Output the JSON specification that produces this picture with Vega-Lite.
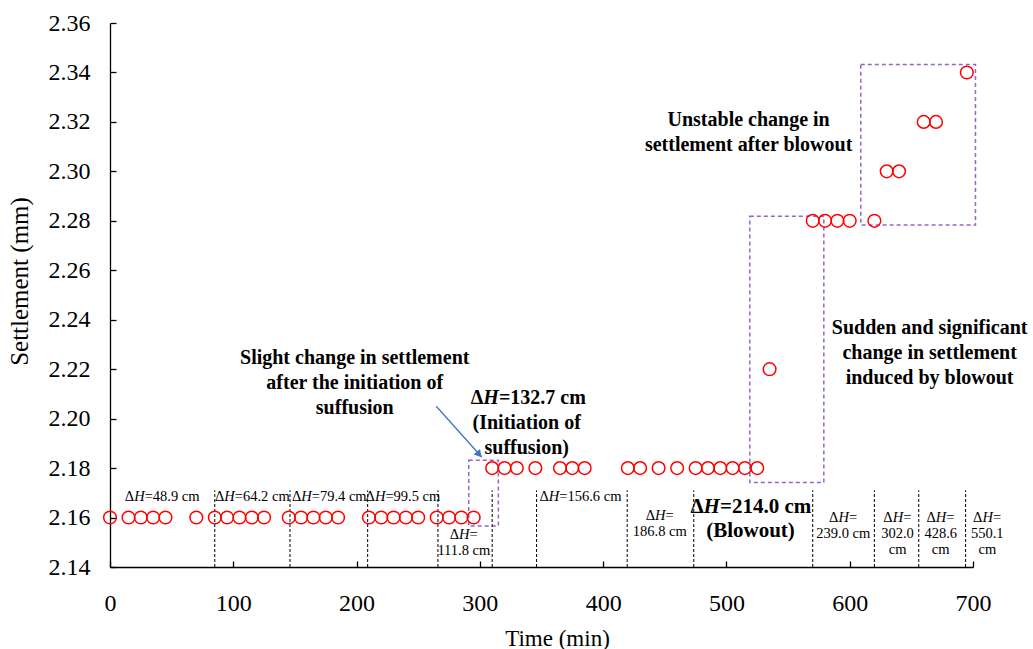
{
  "$schema": "https://vega.github.io/schema/vega-lite/v6.json",
  "width": 863,
  "height": 544,
  "autosize": {"type": "none"},
  "padding": {"left": 110, "top": 23, "right": 60, "bottom": 82},
  "config": {"view": {"stroke": null}, "font": "Liberation Serif"},
  "datasets": {
    "pts": [
      {"x": 0, "y": 2.16}, {"x": 15, "y": 2.16}, {"x": 25, "y": 2.16}, {"x": 35, "y": 2.16}, {"x": 45, "y": 2.16},
      {"x": 70, "y": 2.16}, {"x": 85, "y": 2.16}, {"x": 95, "y": 2.16}, {"x": 105, "y": 2.16}, {"x": 115, "y": 2.16},
      {"x": 125, "y": 2.16}, {"x": 145, "y": 2.16}, {"x": 155, "y": 2.16}, {"x": 165, "y": 2.16}, {"x": 175, "y": 2.16},
      {"x": 185, "y": 2.16}, {"x": 210, "y": 2.16}, {"x": 220, "y": 2.16}, {"x": 230, "y": 2.16}, {"x": 240, "y": 2.16},
      {"x": 250, "y": 2.16}, {"x": 265, "y": 2.16}, {"x": 275, "y": 2.16}, {"x": 285, "y": 2.16}, {"x": 295, "y": 2.16},
      {"x": 310, "y": 2.18}, {"x": 320, "y": 2.18}, {"x": 330, "y": 2.18}, {"x": 345, "y": 2.18}, {"x": 365, "y": 2.18},
      {"x": 375, "y": 2.18}, {"x": 385, "y": 2.18}, {"x": 420, "y": 2.18}, {"x": 430, "y": 2.18}, {"x": 445, "y": 2.18},
      {"x": 460, "y": 2.18}, {"x": 475, "y": 2.18}, {"x": 485, "y": 2.18}, {"x": 495, "y": 2.18}, {"x": 505, "y": 2.18},
      {"x": 515, "y": 2.18}, {"x": 525, "y": 2.18},
      {"x": 535, "y": 2.22},
      {"x": 570, "y": 2.28}, {"x": 580, "y": 2.28}, {"x": 590, "y": 2.28}, {"x": 600, "y": 2.28}, {"x": 620, "y": 2.28},
      {"x": 630, "y": 2.30}, {"x": 640, "y": 2.30},
      {"x": 660, "y": 2.32}, {"x": 670, "y": 2.32},
      {"x": 695, "y": 2.34}
    ],
    "rules": [
      {"x": 85, "y": 2.14, "y2": 2.171}, {"x": 146, "y": 2.14, "y2": 2.171}, {"x": 209, "y": 2.14, "y2": 2.171},
      {"x": 266, "y": 2.14, "y2": 2.171}, {"x": 310, "y": 2.14, "y2": 2.171}, {"x": 346, "y": 2.14, "y2": 2.171},
      {"x": 419.5, "y": 2.14, "y2": 2.171}, {"x": 473.5, "y": 2.14, "y2": 2.171}, {"x": 570, "y": 2.14, "y2": 2.171},
      {"x": 620, "y": 2.14, "y2": 2.171}, {"x": 656, "y": 2.14, "y2": 2.171}, {"x": 694, "y": 2.14, "y2": 2.171}
    ],
    "boxes": [
      {"x": 291, "x2": 315, "y": 2.1566, "y2": 2.1832},
      {"x": 519, "x2": 579, "y": 2.1742, "y2": 2.2818},
      {"x": 609, "x2": 702, "y": 2.2783, "y2": 2.3432}
    ],
    "arrow": [{"x": 264.6, "y": 2.205, "x2": 301.5, "y2": 2.1845}],
    "arrowhead": [{"x": 299.5, "y": 2.1855}],
    "dh_small": [
      {"x": 19.6, "y": 2.1684, "s": "=48.9 cm"},
      {"x": 92.7, "y": 2.1684, "s": "=64.2 cm"},
      {"x": 155.1, "y": 2.1684, "s": "=79.4 cm"},
      {"x": 214.9, "y": 2.1684, "s": "=99.5 cm"},
      {"x": 283.05, "y": 2.1529, "s": "="},
      {"x": 355.9, "y": 2.1684, "s": "=156.6 cm"},
      {"x": 442.05, "y": 2.1607, "s": "="},
      {"x": 590.85, "y": 2.1598, "s": "="},
      {"x": 634.85, "y": 2.1598, "s": "="},
      {"x": 669.85, "y": 2.1598, "s": "="},
      {"x": 707.65, "y": 2.1598, "s": "="}
    ],
    "cont_small": [
      {"x": 287, "y": 2.1464, "t": "111.8 cm"},
      {"x": 446, "y": 2.1542, "t": "186.8 cm"},
      {"x": 594.8, "y": 2.1533, "t": "239.0 cm"},
      {"x": 638.8, "y": 2.1533, "t": "302.0|cm"},
      {"x": 673.8, "y": 2.1533, "t": "428.6|cm"},
      {"x": 711.6, "y": 2.1533, "t": "550.1|cm"}
    ],
    "dh_bold": [{"x": 302.8, "y": 2.2083, "s": "=132.7 cm"}],
    "dh_big": [{"x": 481.5, "y": 2.1644, "s": "=214.0 cm"}],
    "bold": [
      {"x": 198.5, "y": 2.2244, "t": "Slight change in settlement|after the initiation of|suffusion"},
      {"x": 338, "y": 2.1982, "t": "(Initiation of|suffusion)"},
      {"x": 518, "y": 2.3208, "t": "Unstable change in|settlement after blowout"},
      {"x": 664.8, "y": 2.2367, "t": "Sudden and significant|change in settlement|induced by blowout"}
    ],
    "big": [
      {"x": 519.5, "y": 2.1547, "t": "(Blowout)"}
    ]
  },
  "encoding": {
    "x": {
      "field": "x", "type": "quantitative",
      "scale": {"domain": [0, 700], "nice": false, "zero": false},
      "axis": {
        "title": "Time (min)", "values": [0, 100, 200, 300, 400, 500, 600, 700],
        "grid": false, "domainColor": "black", "domainWidth": 1.3, "tickColor": "black", "tickWidth": 1.3,
        "tickSize": -6, "labelPadding": 30, "labelFontSize": 24, "labelColor": "black", "labelFont": "Liberation Serif",
        "labelFlush": false, "labelOverlap": false,
        "titleFont": "Liberation Serif", "titleFontSize": 23, "titleFontWeight": "normal", "titleColor": "black",
        "titleX": 447, "titleY": 71, "titleBaseline": "middle", "titleAlign": "center"
      }
    },
    "y": {
      "field": "y", "type": "quantitative",
      "scale": {"domain": [2.14, 2.36], "nice": false, "zero": false},
      "axis": {
        "title": "Settlement (mm)", "values": [2.14, 2.16, 2.18, 2.2, 2.22, 2.24, 2.26, 2.28, 2.3, 2.32, 2.34, 2.36],
        "format": ".2f", "grid": false, "domainColor": "black", "domainWidth": 1.3, "tickColor": "black", "tickWidth": 1.3,
        "tickSize": -6, "labelPadding": 26, "labelFontSize": 24, "labelColor": "black", "labelFont": "Liberation Serif",
        "labelFlush": false, "labelOverlap": false,
        "titleFont": "Liberation Serif", "titleFontSize": 25, "titleFontWeight": "normal", "titleColor": "black",
        "titleX": -91, "titleY": 258, "titleAngle": -90, "titleBaseline": "middle", "titleAlign": "center"
      }
    }
  },
  "layer": [
    {
      "data": {"name": "boxes"},
      "mark": {"type": "rect", "fill": null, "stroke": "#9565C8", "strokeWidth": 1.5, "strokeDash": [4, 3]},
      "encoding": {"x2": {"field": "x2"}, "y2": {"field": "y2"}}
    },
    {
      "data": {"name": "rules"},
      "mark": {"type": "rule", "color": "black", "strokeWidth": 1, "strokeDash": [3, 2]},
      "encoding": {"y2": {"field": "y2"}}
    },
    {
      "data": {"name": "arrow"},
      "mark": {"type": "rule", "color": "#4472C4", "strokeWidth": 1.3},
      "encoding": {"x2": {"field": "x2"}, "y2": {"field": "y2"}}
    },
    {
      "data": {"name": "arrowhead"},
      "mark": {"type": "point", "shape": "triangle-up", "filled": true, "color": "#4472C4", "size": 70, "angle": 138.5, "opacity": 1}
    },
    {
      "data": {"name": "pts"},
      "mark": {"type": "point", "shape": "circle", "filled": false, "color": "#FF0000", "strokeWidth": 1.5, "size": 160, "opacity": 1}
    },
    {
      "data": {"name": "dh_small"},
      "mark": {"type": "text", "text": "Δ", "font": "Liberation Serif", "fontSize": 14.5, "color": "black", "align": "right", "baseline": "middle"}
    },
    {
      "data": {"name": "dh_small"},
      "mark": {"type": "text", "text": "H", "font": "Liberation Serif", "fontStyle": "italic", "fontSize": 14.5, "color": "black", "align": "left", "baseline": "middle"}
    },
    {
      "data": {"name": "dh_small"},
      "mark": {"type": "text", "font": "Liberation Serif", "fontSize": 14.5, "color": "black", "align": "left", "baseline": "middle", "dx": 10.5},
      "encoding": {"text": {"field": "s"}}
    },
    {
      "data": {"name": "cont_small"},
      "mark": {"type": "text", "font": "Liberation Serif", "fontSize": 14.5, "color": "black", "lineBreak": "|", "lineHeight": 16, "align": "center", "baseline": "middle"},
      "encoding": {"text": {"field": "t"}}
    },
    {
      "data": {"name": "dh_bold"},
      "mark": {"type": "text", "text": "Δ", "font": "Liberation Serif", "fontWeight": "bold", "fontSize": 20, "color": "black", "align": "right", "baseline": "middle"}
    },
    {
      "data": {"name": "dh_bold"},
      "mark": {"type": "text", "text": "H", "font": "Liberation Serif", "fontWeight": "bold", "fontStyle": "italic", "fontSize": 20, "color": "black", "align": "left", "baseline": "middle"}
    },
    {
      "data": {"name": "dh_bold"},
      "mark": {"type": "text", "font": "Liberation Serif", "fontWeight": "bold", "fontSize": 20, "color": "black", "align": "left", "baseline": "middle", "dx": 15.6},
      "encoding": {"text": {"field": "s"}}
    },
    {
      "data": {"name": "dh_big"},
      "mark": {"type": "text", "text": "Δ", "font": "Liberation Serif", "fontWeight": "bold", "fontSize": 21, "color": "black", "align": "right", "baseline": "middle"}
    },
    {
      "data": {"name": "dh_big"},
      "mark": {"type": "text", "text": "H", "font": "Liberation Serif", "fontWeight": "bold", "fontStyle": "italic", "fontSize": 21, "color": "black", "align": "left", "baseline": "middle"}
    },
    {
      "data": {"name": "dh_big"},
      "mark": {"type": "text", "font": "Liberation Serif", "fontWeight": "bold", "fontSize": 21, "color": "black", "align": "left", "baseline": "middle", "dx": 16.3},
      "encoding": {"text": {"field": "s"}}
    },
    {
      "data": {"name": "bold"},
      "mark": {"type": "text", "font": "Liberation Serif", "fontSize": 20, "fontWeight": "bold", "color": "black", "lineBreak": "|", "lineHeight": 25, "align": "center", "baseline": "middle"},
      "encoding": {"text": {"field": "t"}}
    },
    {
      "data": {"name": "big"},
      "mark": {"type": "text", "font": "Liberation Serif", "fontSize": 21, "fontWeight": "bold", "color": "black", "lineBreak": "|", "lineHeight": 24, "align": "center", "baseline": "middle"},
      "encoding": {"text": {"field": "t"}}
    }
  ]
}
